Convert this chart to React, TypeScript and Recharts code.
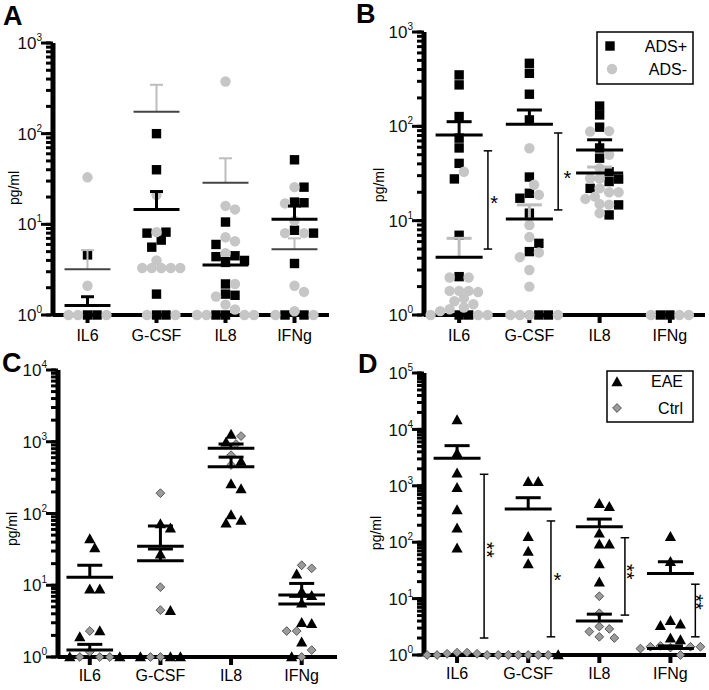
import React from 'react';
import { ScatterChart, Scatter, XAxis, YAxis, ReferenceLine } from 'recharts';

const FONT = '"Liberation Sans", Arial, Helvetica, sans-serif';
const W = 709;
const H = 690;

const categories = ['IL6', 'G-CSF', 'IL8', 'IFNg'];

// ---------- Panel A (black squares / grey circles) ----------
const aSquares: number[][] = [
  [4.6, 1, 1],
  [100, 40, 8.2, 8, 6.7, 5.6, 1.7, 1, 1],
  [10.6, 6.0, 4.5, 4.4, 4.0, 3.8, 2.2, 1.7, 1.65, 1, 1],
  [51.5, 25.7, 17.6, 17.3, 8.6, 8.0, 3.7, 1, 1],
];
const aCircles: number[][] = [
  [33, 2.1, 1, 1, 1],
  [21, 8.2, 4.0, 3.3, 3.3, 3.3, 3.3, 3.3, 1, 1],
  [376, 16, 14.6, 7.2, 6.5, 4.8, 2.2, 1.6, 1.3, 1.15, 1, 1, 1, 1],
  [25.7, 17, 11, 8, 8, 2.1, 1.8, 1.1, 1, 1],
];
const aSquareMean = [1.27, 14.6, 3.55, 11.4];
const aSquareSem = [1.59, 23, 4.2, 15.9];
const aCircleMean = [3.2, 174, 28.7, 5.3];
const aCircleSem = [5.2, 346, 53.5, 7.0];

// ---------- Panel B (ADS+ / ADS-) ----------
const bPlus: number[][] = [
  [351, 275, 127, 75, 59, 40.5, 27.7, 7.0, 2.55, 1, 1],
  [466, 365, 219, 117, 29, 19.5, 17.3, 12, 5.75, 4.7, 1, 1],
  [164, 132, 98, 59, 46, 33, 27.6, 26, 22, 14.7, 11.5],
  [1, 1],
];
const bMinus: number[][] = [
  [33, 2.5, 2.5, 1.8, 1.8, 1.8, 1.75, 1.5, 1.4, 1.3, 1.2, 1.15, 1.1, 1, 1, 1],
  [58.5, 24, 18.8, 9, 6.7, 4.6, 4.1, 3.0, 2.0, 1, 1, 1, 1],
  [89, 88, 50, 36, 28, 28, 22, 20, 20, 18, 17, 15, 14.8, 12],
  [1, 1, 1],
];
const bPlusMean = [81, 105, 56, null];
const bPlusSem = [112, 149, 72, null];
const bMinusMean = [4.1, 10.4, 32, null];
const bMinusSem = [6.5, 14.7, 37, null];
const bBrackets = [
  { x: 1.41, lo: 5.0, hi: 55 },
  { x: 2.41, lo: 13, hi: 85 },
];
const bStars = [
  { x: 1.5, y: 17.4, t: '*' },
  { x: 2.54, y: 32, t: '*' },
];

// ---------- Panel C (triangles / diamonds) ----------
const cEae: number[][] = [
  [44, 33, 8.8, 8.8, 2.3, 1.9, 1, 1],
  [71, 62, 27, 4.4, 1, 1, 1],
  [1260, 980, 530, 257, 219, 95, 80, 73],
  [14.2, 8.1, 7.1, 5.6, 3.0, 2.9, 1.6, 1],
];
const cCtrl: number[][] = [
  [2.3, 1.18, 1, 1, 1],
  [192, 9.4, 4.5, 1, 1],
  [1200, 930, 650, 474],
  [19, 17.2, 2.3, 2.3, 1.25, 1],
];
const cEaeMean = [12.9, 35, 810, 7.3];
const cEaeSem = [19, 67, 930, 10.6];
const cCtrlMean = [1.25, 22, 450, 5.5];
const cCtrlSem = [1.5, 32, 610, 7];

// ---------- Panel D (EAE / Ctrl) ----------
const dEae: number[][] = [
  [14700, 3770, 1670, 926, 372, 176, 78],
  [1180, 1180, 125, 68, 41, 1],
  [480, 425, 144, 92, 92, 41, 19.5],
  [125, 45, 4.06, 3.5, 3.3, 1.97, 1.85],
];
const dCtrl: number[][] = [
  [1, 1.05, 1.1, 1.1, 1.05, 1, 1],
  [1, 1, 1, 1, 1, 1],
  [11, 5.5, 3.2, 2.9, 2.6, 2.1, 2.0],
  [1.45, 1.4, 1.4, 1.4, 1.35, 1.3, 1.0],
];
const dEaeMean = [3070, 387, 188, 28];
const dEaeSem = [5150, 615, 257, 45];
const dCtrlMean = [null, null, 4.0, 1.3];
const dCtrlSem = [null, null, 5.3, 1.45];
const dBrackets = [
  { x: 1.38, lo: 2.0, hi: 1600 },
  { x: 2.32, lo: 2.1, hi: 238 },
  { x: 3.36, lo: 5.1, hi: 120 },
  { x: 4.35, lo: 2.1, hi: 18 },
];
const dStars = [
  { x: 1.49, y: 73, t: '**' },
  { x: 2.41, y: 26, t: '*' },
  { x: 3.46, y: 30, t: '**' },
  { x: 4.43, y: 8.7, t: '**' },
];

// ---------- shapes ----------
type ShapeKind = 'square' | 'circle' | 'triangle' | 'diamond';

function Marker({ kind, cx, cy }: { kind: ShapeKind; cx: number; cy: number }) {
  if (kind === 'square') return <rect x={cx - 4.7} y={cy - 4.7} width={9.4} height={9.4} fill="#000" />;
  if (kind === 'circle') return <circle cx={cx} cy={cy} r={5.2} fill="#c6c6c6" />;
  if (kind === 'triangle')
    return <polygon points={`${cx},${cy - 5.8} ${cx - 5.6},${cy + 4.2} ${cx + 5.6},${cy + 4.2}`} fill="#000" />;
  return (
    <polygon
      points={`${cx},${cy - 4.4} ${cx + 4.4},${cy} ${cx},${cy + 4.4} ${cx - 4.4},${cy}`}
      fill="#9b9b9b"
      stroke="#3a3a3a"
      strokeWidth={0.8}
    />
  );
}

type Style2 = { mean: string; meanW: number; whisker: string; whiskerW: number };

type Cfg = {
  left: number;
  top: number;
  right: number;
  bottom: number;
  xMin: number;
  xMax: number;
  decades: number;
  tickGap: number;
  capHalf: number;
  meanHalf: number;
  size: number;
  s1: number[][];
  s2: number[][];
  k1: ShapeKind;
  k2: ShapeKind;
  m1: (number | null)[];
  u1: (number | null)[];
  m2: (number | null)[];
  u2: (number | null)[];
  st2: Style2;
  brackets: { x: number; lo: number; hi: number }[];
  stars: { x: number; y: number; t: string }[];
};

function logTicks(decades: number) {
  const t: number[] = [];
  for (let d = 0; d < decades; d++) for (let m = 1; m <= 9; m++) t.push(m * Math.pow(10, d));
  t.push(Math.pow(10, decades));
  return t;
}

function buildSwarm(cfg: Cfg) {
  const pxPerDecade = (cfg.bottom - cfg.top) / cfg.decades;
  const pxPerUnit = (cfg.right - cfg.left) / (cfg.xMax - cfg.xMin);
  const out: { x: number; y: number }[][] = [[], []];
  categories.forEach((_, ci) => {
    const items: { v: number; s: number; r: number }[] = [];
    cfg.s1[ci].forEach((v, r) => items.push({ v, s: 0, r }));
    cfg.s2[ci].forEach((v, r) => items.push({ v, s: 1, r }));
    items.sort((a, b) => b.v - a.v || a.r - b.r || a.s - b.s);
    const placed: { x: number; y: number }[] = [];
    const thr = cfg.size * 0.92;
    items.forEach((it) => {
      const py = Math.log10(it.v) * pxPerDecade;
      let off = 0;
      for (let k = 0; k < 80; k++) {
        const o = k === 0 ? 0 : (k % 2 === 1 ? 1 : -1) * Math.ceil(k / 2) * cfg.size * 0.5;
        if (placed.every((q) => Math.hypot(q.x - o, q.y - py) >= thr)) {
          off = o;
          break;
        }
      }
      placed.push({ x: off, y: py });
      out[it.s].push({ x: ci + 1 + off / pxPerUnit, y: it.v });
    });
  });
  return out;
}

// tick label: p.x is the tick line's outer end (axis - tickSize - tickMargin)
const TICK_SIZE = 7;
const yTickRenderer = (p: any) => {
  const v = p.payload.value;
  const lg = Math.log10(v);
  const e = Math.round(lg);
  const major = Math.abs(lg - e) < 1e-6;
  if (!major) return <g />;
  return (
    <g>
      <rect x={p.x - 3} y={p.y - 1.5} width={TICK_SIZE + 3} height={3} fill="#000" />
      <text x={p.x - 2} y={p.y} textAnchor="end" fontFamily={FONT} fontSize={17} fill="#111">
        <tspan dy="0.36em">10</tspan>
        <tspan dy={-8} fontSize={10}>
          {e}
        </tspan>
      </text>
    </g>
  );
};

function meanLines(
  cfg: Cfg,
  means: (number | null)[],
  ups: (number | null)[],
  color: string,
  w: number,
  wColor: string,
  wW: number,
  key: string
) {
  const els: React.ReactNode[] = [];
  means.forEach((m, i) => {
    const u = ups[i];
    if (m == null) return;
    const x = i + 1;
    if (u != null) {
      els.push(
        <ReferenceLine key={`${key}w${i}`} segment={[{ x, y: m }, { x, y: u }]} stroke={wColor} strokeWidth={wW} ifOverflow="visible" />
      );
      els.push(
        <ReferenceLine
          key={`${key}c${i}`}
          segment={[{ x: x - cfg.capHalf, y: u }, { x: x + cfg.capHalf, y: u }]}
          stroke={wColor}
          strokeWidth={wW}
          ifOverflow="visible"
        />
      );
    }
    els.push(
      <ReferenceLine
        key={`${key}m${i}`}
        segment={[{ x: x - cfg.meanHalf, y: m }, { x: x + cfg.meanHalf, y: m }]}
        stroke={color}
        strokeWidth={w}
        ifOverflow="visible"
      />
    );
  });
  return els;
}

const yAxisW = 45;

function Frame({ cfg, visible, children }: { cfg: Cfg; visible: boolean; children?: React.ReactNode }) {
  const margin = {
    left: cfg.left - yAxisW,
    top: cfg.top,
    right: W - cfg.right,
    bottom: H - cfg.bottom - 30,
  };
  return (
    <div style={{ position: 'absolute', left: 0, top: 0, pointerEvents: 'none' }}>
      <ScatterChart width={W} height={H} margin={margin}>
        <XAxis
          type="number"
          dataKey="x"
          domain={[cfg.xMin, cfg.xMax]}
          ticks={[1, 2, 3, 4]}
          interval={0}
          height={30}
          tickFormatter={(v: number) => categories[Math.round(v) - 1]}
          axisLine={visible ? { stroke: '#000', strokeWidth: 4 } : false}
          tickLine={visible ? { stroke: '#000', strokeWidth: 4 } : false}
          tickSize={8}
          tickMargin={cfg.tickGap}
          tick={visible ? { fill: '#000', fontSize: 16, fontFamily: FONT } : false}
        />
        <YAxis
          type="number"
          dataKey="y"
          scale="log"
          domain={[1, Math.pow(10, cfg.decades)]}
          ticks={logTicks(cfg.decades)}
          interval={0}
          width={yAxisW}
          axisLine={visible ? { stroke: '#000', strokeWidth: 5 } : false}
          tickLine={visible ? { stroke: '#000', strokeWidth: 3 } : false}
          tickSize={TICK_SIZE}
          tickMargin={2}
          tick={visible ? yTickRenderer : false}
        />
        {children}
      </ScatterChart>
    </div>
  );
}

function Panel({ cfg }: { cfg: Cfg }) {
  const pts = buildSwarm(cfg);
  const starShape = (p: any) => {
    const t: string = p.payload.t;
    const fs = 20;
    const rot = t.length > 1;
    return (
      <text
        x={p.cx}
        y={p.cy + 0.58 * fs}
        textAnchor="middle"
        fontFamily={FONT}
        fontSize={fs}
        fill="#000"
        transform={rot ? `rotate(90 ${p.cx} ${p.cy})` : undefined}
      >
        {t}
      </text>
    );
  };
  return (
    <>
      <Frame cfg={cfg} visible>
        <Scatter data={pts[0]} isAnimationActive={false} fill="none" shape={() => <g />} />
      </Frame>
      <Frame cfg={cfg} visible={false}>
        <Scatter data={pts[0]} isAnimationActive={false} shape={(p: any) => <Marker kind={cfg.k1} cx={p.cx} cy={p.cy} />} />
        <Scatter data={pts[1]} isAnimationActive={false} shape={(p: any) => <Marker kind={cfg.k2} cx={p.cx} cy={p.cy} />} />
      </Frame>
      <Frame cfg={cfg} visible={false}>
        <Scatter data={pts[0]} isAnimationActive={false} shape={() => <g />} />
        {meanLines(cfg, cfg.m2, cfg.u2, cfg.st2.mean, cfg.st2.meanW, cfg.st2.whisker, cfg.st2.whiskerW, 's2')}
        {meanLines(cfg, cfg.m1, cfg.u1, '#000', 3, '#000', 3, 's1')}
        {cfg.brackets.map((b, i) => [
          <ReferenceLine key={`bv${i}`} segment={[{ x: b.x, y: b.lo }, { x: b.x, y: b.hi }]} stroke="#000" strokeWidth={1.5} ifOverflow="visible" />,
          <ReferenceLine
            key={`bl${i}`}
            segment={[{ x: b.x - 0.06, y: b.lo }, { x: b.x + 0.06, y: b.lo }]}
            stroke="#000"
            strokeWidth={1.5}
            ifOverflow="visible"
          />,
          <ReferenceLine
            key={`bh${i}`}
            segment={[{ x: b.x - 0.06, y: b.hi }, { x: b.x + 0.06, y: b.hi }]}
            stroke="#000"
            strokeWidth={1.5}
            ifOverflow="visible"
          />,
        ])}
        {cfg.stars.length > 0 && <Scatter data={cfg.stars} isAnimationActive={false} shape={starShape} />}
      </Frame>
    </>
  );
}

const styleA2: Style2 = { mean: '#444', meanW: 2, whisker: '#bdbdbd', whiskerW: 2 };
const styleB2: Style2 = { mean: '#000', meanW: 3, whisker: '#bdbdbd', whiskerW: 3 };
const styleBlack: Style2 = { mean: '#000', meanW: 3, whisker: '#000', whiskerW: 3 };

const panels: Cfg[] = [
  {
    left: 53, top: 43, right: 329, bottom: 315, xMin: 0.5, xMax: 4.5, decades: 3, tickGap: 7,
    capHalf: 0.094, meanHalf: 0.333, size: 9.5,
    s1: aSquares, s2: aCircles, k1: 'square', k2: 'circle',
    m1: aSquareMean, u1: aSquareSem, m2: aCircleMean, u2: aCircleSem, st2: styleA2,
    brackets: [], stars: [],
  },
  {
    left: 424, top: 32, right: 705, bottom: 315, xMin: 0.5, xMax: 4.5, decades: 3, tickGap: 7,
    capHalf: 0.178, meanHalf: 0.335, size: 9.5,
    s1: bPlus, s2: bMinus, k1: 'square', k2: 'circle',
    m1: bPlusMean, u1: bPlusSem, m2: bMinusMean, u2: bMinusSem, st2: styleB2,
    brackets: bBrackets, stars: bStars,
  },
  {
    left: 58, top: 370, right: 337, bottom: 657, xMin: 0.55, xMax: 4.5, decades: 4, tickGap: 5,
    capHalf: 0.177, meanHalf: 0.33, size: 10,
    s1: cEae, s2: cCtrl, k1: 'triangle', k2: 'diamond',
    m1: cEaeMean, u1: cEaeSem, m2: cCtrlMean, u2: cCtrlSem, st2: styleBlack,
    brackets: [], stars: [],
  },
  {
    left: 424, top: 373, right: 706, bottom: 655, xMin: 0.535, xMax: 4.5, decades: 5, tickGap: 5,
    capHalf: 0.176, meanHalf: 0.33, size: 10,
    s1: dEae, s2: dCtrl, k1: 'triangle', k2: 'diamond',
    m1: dEaeMean, u1: dEaeSem, m2: dCtrlMean, u2: dCtrlSem, st2: styleBlack,
    brackets: dBrackets, stars: dStars,
  },
];

function Overlay() {
  const letter = { fontFamily: FONT, fontSize: 27, fontWeight: 700, fill: '#000' } as const;
  const yl = (cx: number, cy: number) => (
    <text
      x={cx}
      y={cy}
      dy="0.35em"
      textAnchor="middle"
      transform={`rotate(-90 ${cx} ${cy})`}
      fontFamily={FONT}
      fontSize={14}
      fill="#000"
    >
      pg/ml
    </text>
  );
  const lt = { fontFamily: FONT, fontSize: 16, fill: '#000', textAnchor: 'end' as const };
  return (
    <svg width={W} height={H} style={{ position: 'absolute', left: 0, top: 0 }}>
      <text x={3} y={25} {...letter}>A</text>
      <text x={356} y={23} {...letter}>B</text>
      <text x={2} y={372} {...letter}>C</text>
      <text x={358} y={373} {...letter}>D</text>
      {yl(14, 188)}
      {yl(379, 185)}
      {yl(12, 529)}
      {yl(376, 533)}
      <rect x={597} y={32} width={96} height={52} fill="#fff" stroke="#000" strokeWidth={1.5} />
      <Marker kind="square" cx={610} cy={46} />
      <text x={687} y={46} dy="0.36em" {...lt}>ADS+</text>
      <Marker kind="circle" cx={612} cy={69} />
      <text x={687} y={69} dy="0.36em" {...lt}>ADS-</text>
      <rect x={607} y={371} width={86} height={51} fill="#fff" stroke="#000" strokeWidth={1.5} />
      <Marker kind="triangle" cx={617} cy={382} />
      <text x={683} y={381} dy="0.36em" {...lt}>EAE</text>
      <Marker kind="diamond" cx={617} cy={408} />
      <text x={683} y={408} dy="0.36em" {...lt}>Ctrl</text>
    </svg>
  );
}

export default function App() {
  return (
    <div style={{ position: 'absolute', left: 0, top: 0, width: W, height: H, background: '#fff', overflow: 'hidden' }}>
      {panels.map((cfg, i) => (
        <Panel key={i} cfg={cfg} />
      ))}
      <Overlay />
    </div>
  );
}
